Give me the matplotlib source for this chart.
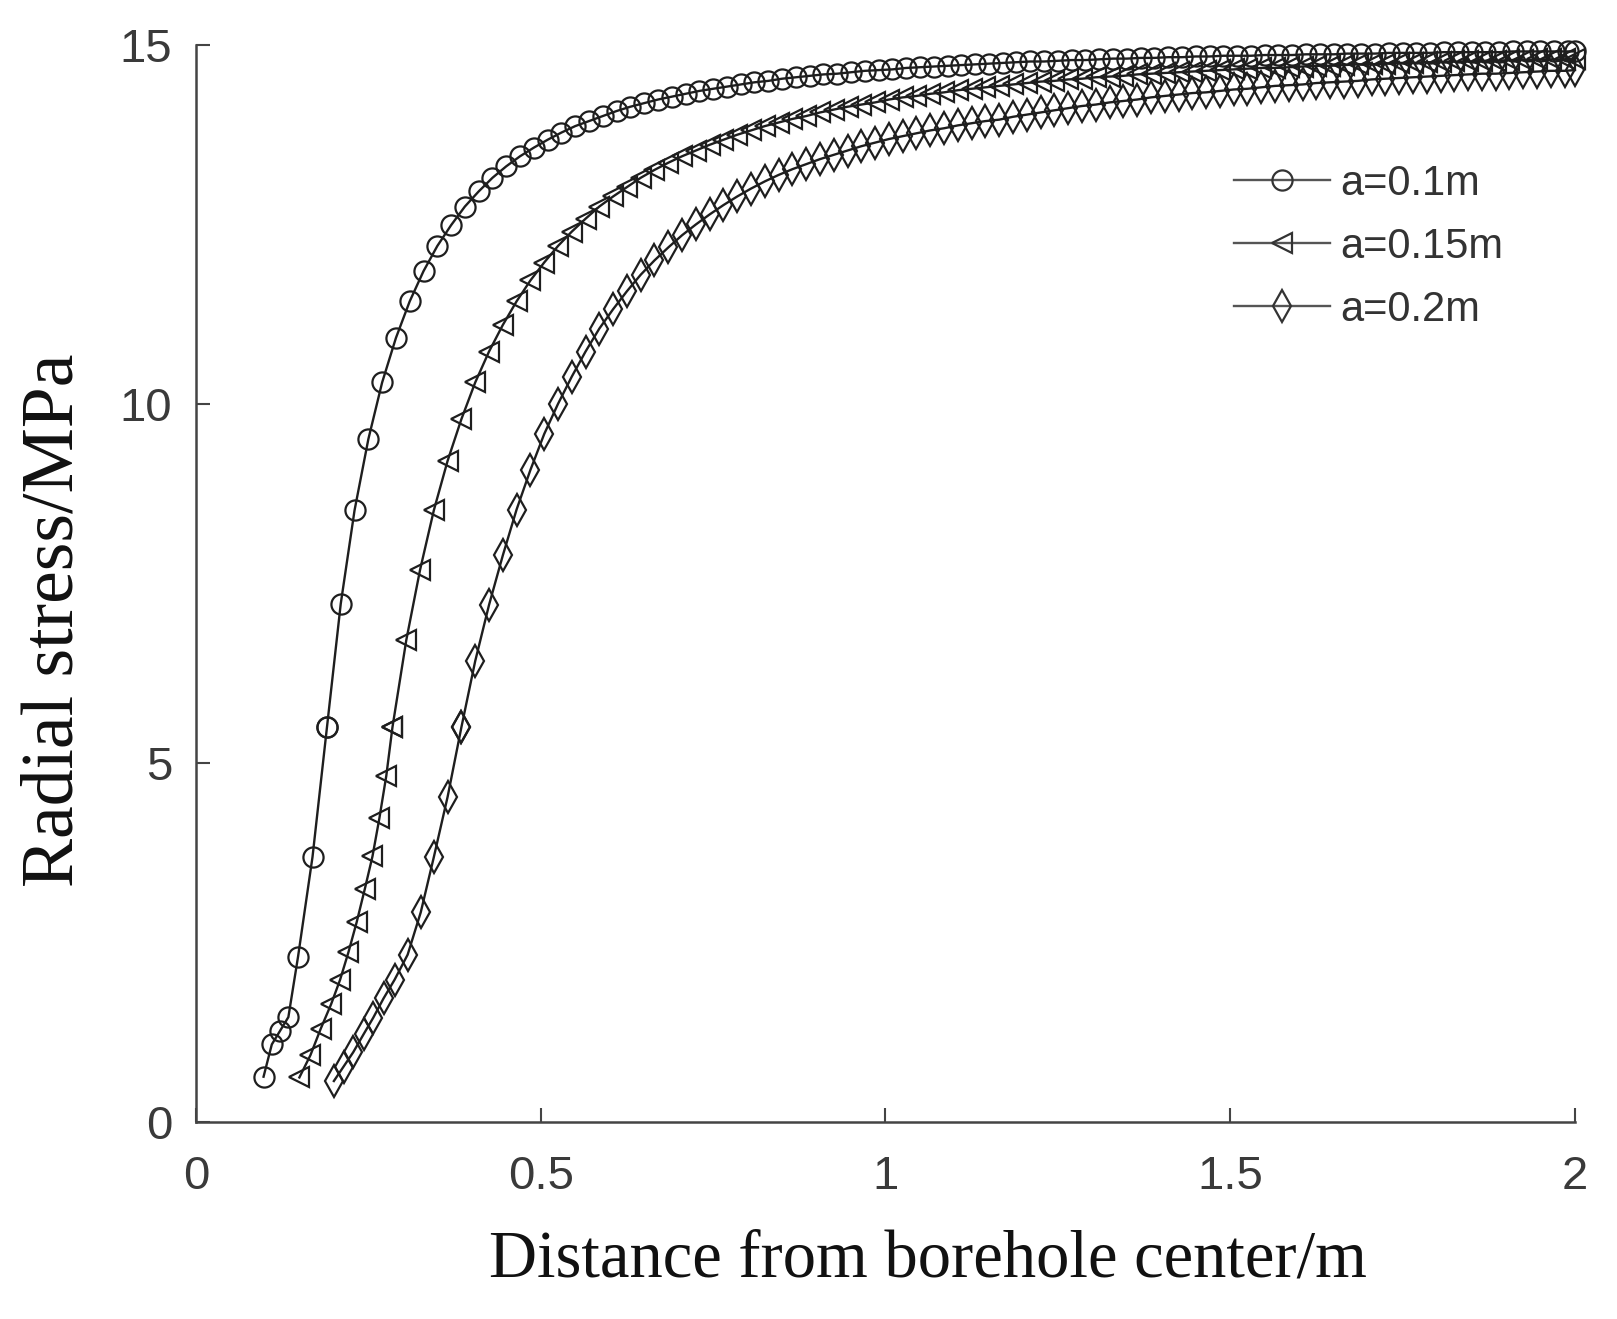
import matplotlib
matplotlib.use("Agg")
import matplotlib.pyplot as plt

# radial stress vs distance
# a = 0.1 m (plastic zone, then elastic zone; the boundary point appears twice)
x_a01 = [0.098, 0.110, 0.122, 0.134, 0.148, 0.169, 0.190,
         0.19, 0.21, 0.23, 0.25, 0.27, 0.29, 0.31, 0.33, 0.35, 0.37, 0.39,
         0.41, 0.43, 0.45, 0.47, 0.49, 0.51, 0.53, 0.55, 0.57, 0.59,
         0.61, 0.63, 0.65, 0.67, 0.69, 0.71, 0.73, 0.75, 0.77, 0.79,
         0.81, 0.83, 0.85, 0.87, 0.89, 0.91, 0.93, 0.95, 0.97, 0.99,
         1.01, 1.03, 1.05, 1.07, 1.09, 1.11, 1.13, 1.15, 1.17, 1.19,
         1.21, 1.23, 1.25, 1.27, 1.29, 1.31, 1.33, 1.35, 1.37, 1.39,
         1.41, 1.43, 1.45, 1.47, 1.49, 1.51, 1.53, 1.55, 1.57, 1.59,
         1.61, 1.63, 1.65, 1.67, 1.69, 1.71, 1.73, 1.75, 1.77, 1.79,
         1.81, 1.83, 1.85, 1.87, 1.89, 1.91, 1.93, 1.95, 1.97, 1.99, 2.00]
y_a01 = [0.63, 1.08, 1.27, 1.46, 2.30, 3.69, 5.50,
         5.50, 7.22, 8.52, 9.51, 10.30, 10.92, 11.43, 11.85, 12.20, 12.49, 12.75,
         12.96, 13.15, 13.31, 13.45, 13.57, 13.68, 13.78, 13.87, 13.94, 14.01,
         14.08, 14.14, 14.19, 14.24, 14.28, 14.32, 14.36, 14.39, 14.42, 14.45,
         14.48, 14.50, 14.53, 14.55, 14.57, 14.59, 14.60, 14.62, 14.64, 14.65,
         14.66, 14.68, 14.69, 14.70, 14.71, 14.72, 14.73, 14.74, 14.75, 14.76,
         14.77, 14.77, 14.78, 14.79, 14.79, 14.80, 14.81, 14.81, 14.82, 14.82,
         14.83, 14.83, 14.84, 14.84, 14.85, 14.85, 14.85, 14.86, 14.86, 14.86,
         14.87, 14.87, 14.87, 14.88, 14.88, 14.88, 14.89, 14.89, 14.89, 14.89,
         14.90, 14.90, 14.90, 14.90, 14.90, 14.91, 14.91, 14.91, 14.91, 14.91, 14.91]

# a = 0.15 m
x_a015 = [0.150, 0.166, 0.181, 0.196, 0.209, 0.221, 0.233, 0.245, 0.256, 0.266, 0.276, 0.285,
          0.285, 0.305, 0.325, 0.345, 0.365, 0.385, 0.405, 0.425, 0.445, 0.465,
          0.485, 0.505, 0.525, 0.545, 0.565, 0.585, 0.605, 0.625, 0.645, 0.665,
          0.685, 0.705, 0.725, 0.745, 0.765, 0.785, 0.805, 0.825, 0.845, 0.865,
          0.885, 0.905, 0.925, 0.945, 0.965, 0.985, 1.005, 1.025, 1.045, 1.065,
          1.085, 1.105, 1.125, 1.145, 1.165, 1.185, 1.205, 1.225, 1.245, 1.265,
          1.285, 1.305, 1.325, 1.345, 1.365, 1.385, 1.405, 1.425, 1.445, 1.465,
          1.485, 1.505, 1.525, 1.545, 1.565, 1.585, 1.605, 1.625, 1.645, 1.665,
          1.685, 1.705, 1.725, 1.745, 1.765, 1.785, 1.805, 1.825, 1.845, 1.865,
          1.885, 1.905, 1.925, 1.945, 1.965, 1.985, 2.000]
y_a015 = [0.62, 0.93, 1.30, 1.64, 1.98, 2.36, 2.78, 3.25, 3.70, 4.23, 4.82, 5.50,
          5.50, 6.71, 7.69, 8.52, 9.21, 9.79, 10.30, 10.73, 11.10, 11.43,
          11.72, 11.97, 12.20, 12.40, 12.58, 12.75, 12.89, 13.02, 13.15, 13.26,
          13.36, 13.45, 13.53, 13.61, 13.68, 13.75, 13.81, 13.87, 13.92, 13.97,
          14.01, 14.06, 14.10, 14.14, 14.17, 14.20, 14.24, 14.27, 14.29, 14.32,
          14.34, 14.37, 14.39, 14.41, 14.43, 14.45, 14.47, 14.49, 14.50, 14.52,
          14.53, 14.55, 14.56, 14.57, 14.59, 14.60, 14.61, 14.62, 14.63, 14.64,
          14.65, 14.66, 14.67, 14.68, 14.68, 14.69, 14.70, 14.71, 14.71, 14.72,
          14.73, 14.73, 14.74, 14.75, 14.75, 14.76, 14.76, 14.77, 14.77, 14.78,
          14.78, 14.79, 14.79, 14.80, 14.80, 14.80, 14.81]

# a = 0.2 m
x_a02 = [0.200, 0.214, 0.228, 0.243, 0.257, 0.272, 0.288, 0.307, 0.326, 0.345, 0.365, 0.385,
         0.385, 0.405, 0.425, 0.445, 0.465, 0.485, 0.505, 0.525, 0.545, 0.565,
         0.585, 0.605, 0.625, 0.645, 0.665, 0.685, 0.705, 0.725, 0.745, 0.765,
         0.785, 0.805, 0.825, 0.845, 0.865, 0.885, 0.905, 0.925, 0.945, 0.965,
         0.985, 1.005, 1.025, 1.045, 1.065, 1.085, 1.105, 1.125, 1.145, 1.165,
         1.185, 1.205, 1.225, 1.245, 1.265, 1.285, 1.305, 1.325, 1.345, 1.365,
         1.385, 1.405, 1.425, 1.445, 1.465, 1.485, 1.505, 1.525, 1.545, 1.565,
         1.585, 1.605, 1.625, 1.645, 1.665, 1.685, 1.705, 1.725, 1.745, 1.765,
         1.785, 1.805, 1.825, 1.845, 1.865, 1.885, 1.905, 1.925, 1.945, 1.965,
         1.985, 2.000]
y_a02 = [0.57, 0.77, 0.97, 1.22, 1.45, 1.72, 1.98, 2.33, 2.92, 3.69, 4.53, 5.50,
         5.50, 6.42, 7.20, 7.89, 8.53, 9.08, 9.58, 10.00, 10.38, 10.73,
         11.05, 11.32, 11.57, 11.80, 12.00, 12.18, 12.35, 12.50, 12.64, 12.77,
         12.89, 13.00, 13.10, 13.19, 13.27, 13.34, 13.41, 13.47, 13.53, 13.59,
         13.64, 13.69, 13.73, 13.77, 13.81, 13.84, 13.88, 13.91, 13.94, 13.96,
         14.00, 14.03, 14.06, 14.09, 14.12, 14.15, 14.17, 14.20, 14.22, 14.24,
         14.27, 14.29, 14.31, 14.33, 14.34, 14.36, 14.38, 14.39, 14.41, 14.43,
         14.44, 14.45, 14.47, 14.48, 14.49, 14.50, 14.52, 14.53, 14.54, 14.55,
         14.56, 14.57, 14.58, 14.59, 14.60, 14.60, 14.61, 14.62, 14.63, 14.64,
         14.64, 14.65]

labels = ["a=0.1m", "a=0.15m", "a=0.2m"]
x_ticks = [0, 0.5, 1, 1.5, 2]
x_tick_labels = ["0", "0.5", "1", "1.5", "2"]
y_ticks = [0, 5, 10, 15]

LINE = "#1e1e1e"
SANS = ["Liberation Sans", "DejaVu Sans"]
SERIF = ["Liberation Serif", "DejaVu Serif"]

fig = plt.figure(figsize=(16.17, 13.19), dpi=100)
ax = fig.add_axes([0.1212, 0.1494, 0.8528, 0.8165])

series = [(x_a01, y_a01, "o", 14.5), (x_a015, y_a015, "<", 15), (x_a02, y_a02, "d", 16)]
for (xs, ys, mk, ms), lab in zip(series, labels):
    ax.plot(xs, ys, color=LINE, lw=1.7, marker=mk, ms=ms, mfc="none",
            mec=LINE, mew=1.6, label=lab, clip_on=False)

ax.set_xlim(0, 2)
ax.set_ylim(0, 15)
ax.set_xticks(x_ticks)
ax.set_xticklabels(x_tick_labels)
ax.set_yticks(y_ticks)

for side in ("top", "right"):
    ax.spines[side].set_visible(False)
for side in ("left", "bottom"):
    ax.spines[side].set_color("#444444")
    ax.spines[side].set_linewidth(1.8)

ax.tick_params(axis="both", direction="in", length=10, width=1.5, color="#444444",
               labelsize=34, labelcolor="#3a3a3a")
ax.tick_params(axis="x", pad=24)
ax.tick_params(axis="y", pad=17)
for t in ax.get_xticklabels() + ax.get_yticklabels():
    t.set_family(SANS)

ax.set_xlabel("Distance from borehole center/m", family=SERIF, fontsize=48, color="#111111")
ax.set_ylabel("Radial stress/MPa", family=SERIF, fontsize=53, color="#111111")
ax.xaxis.set_label_coords(0.531, -0.100)
ax.yaxis.set_label_coords(-0.078, 0.4655)

leg = ax.legend(loc="upper left", bbox_to_anchor=(0.738, 0.909), frameon=False,
                prop={"family": SANS, "size": 30}, handlelength=2.3,
                handletextpad=0.25, labelspacing=0.55, borderpad=0.0)
for txt in leg.get_texts():
    txt.set_color("#333333")
for h in leg.legend_handles:
    h.set_color("#555555")
    h.set_markeredgecolor("#333333")

fig.savefig("out.png", dpi=100)
